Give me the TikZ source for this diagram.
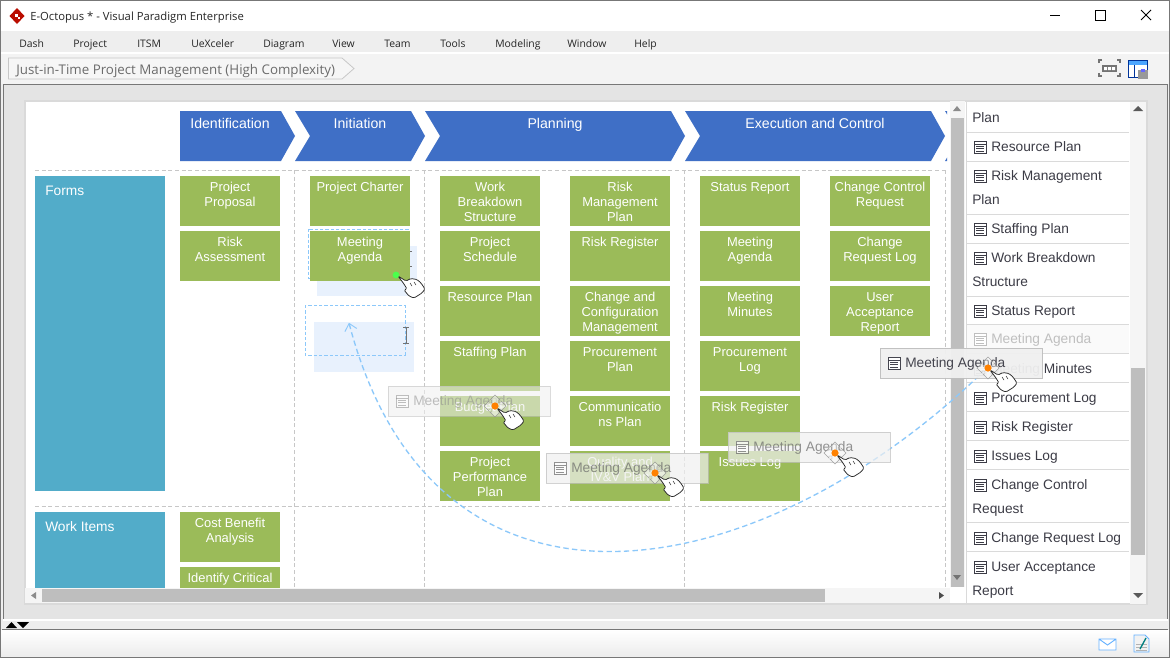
\documentclass[tikz,border=0pt]{standalone}
\usepackage{fontspec}
\setmainfont{Liberation Sans}
\newfontfamily\uifont{Open Sans}
\usetikzlibrary{arrows.meta}
\definecolor{chev}{HTML}{3F6FC6}
\definecolor{lane}{HTML}{52ACC9}
\definecolor{gbox}{HTML}{9BBB59}
\definecolor{chrome}{HTML}{EEEEEE}
\definecolor{frame}{HTML}{777777}
\definecolor{sbar}{HTML}{BEBEBE}
\definecolor{sep}{HTML}{DADADA}
\definecolor{dropb}{HTML}{8CC8FA}
\definecolor{dropf}{HTML}{E8F1FD}
\definecolor{ink}{HTML}{3C3C46}
\tikzset{
 px/.style={x=0.75pt,y=-0.75pt},
 greenbox/.style={fill=gbox,draw=none,anchor=north west,minimum width=75pt,minimum height=37.5pt,inner sep=0pt},
 greentext/.style={anchor=north,align=center,inner sep=0pt,text=white,font=\fontsize{9.7}{11.25}\selectfont},
 lanebox/.style={fill=lane,draw=none,anchor=north west,minimum width=97.5pt,inner sep=0pt},
 lanetext/.style={anchor=base west,inner sep=0pt,text=white,font=\fontsize{10.3}{12}\selectfont},
 chevtext/.style={anchor=base,inner sep=0pt,text=white,font=\fontsize{10.6}{12}\selectfont},
 griddash/.style={draw=black!22,dash pattern=on 3pt off 2pt,line width=0.45pt},
 listtext/.style={anchor=base west,inner sep=0pt,text=ink,font=\fontsize{10.3}{12}\selectfont},
 uitext/.style={anchor=base west,inner sep=0pt,text=black!85,font=\uifont\fontsize{7.8}{10}\selectfont},
 dropbox/.style={draw=dropb,dash pattern=on 2.5pt off 1.5pt,line width=0.6pt},
 dropcurve/.style={draw=dropb,dash pattern=on 4pt off 2.5pt,line width=1pt},
 handshape/.style={fill=white,draw=black!85,line width=0.55pt,rounded corners=1pt},
}
\newcommand{\gb}[5]{\node[greenbox] (#1) at (#2,#3) {};
 \node[greentext] (#1-t) at (#2+50,#3+4.3) {\rule{0pt}{8pt}#4};}
\newcommand{\formicon}[3]{\begin{scope}[shift={(#1,#2)}]
 \draw[#3,line width=0.7pt,fill=white] (0,0) rectangle (12,12);
 \draw[#3,line width=0.5pt] (0,3)--(12,3) (2,5.5)--(10,5.5) (2,7.8)--(10,7.8) (2,10)--(10,10);
 \end{scope}}
\newcommand{\itm}[5]{\formicon{974}{#2-5}{#4}
 \node[listtext,text=#5] (#1) at (991,#2+5) {#3};}
\newcommand{\txtl}[3]{\node[listtext] (#1) at (972,#2+5) {#3};}
\newcommand{\ghostlabel}[5]{%name x y opacity textcolor
 \node[anchor=north west,minimum width=121.5pt,minimum height=22.5pt,inner sep=0pt,fill=black!6,draw=black!25,line width=0.5pt,fill opacity=#4,draw opacity=#4] (#1) at (#2,#3) {};
 \begin{scope}[opacity=#4]\formicon{#2+8}{#3+9}{#5}\end{scope}
 \node[listtext,text=#5,text opacity=#4] (#1-t) at (#2+25,#3+19) {Meeting Agenda};}
\newcommand{\hand}[2]{\begin{scope}[shift={(#1,#2)}]
 \draw[handshape] (0,0)--(8,5)--(13,2.5)--(19,3.5)--(23,7)--(27,13)--(24,17)--(16,22)--(11,20)--(6,14)--(9,13)--(6,8)--cycle;
 \draw[black!85,line width=0.4pt] (12,7)--(14,10) (16,6)--(18,9);
 \end{scope}}
\newcommand{\movedot}[2]{\begin{scope}[shift={(#1,#2)}]
 \draw[fill=white,fill opacity=0.45,draw=black!50,draw opacity=0.7,line width=0.35pt] (0,-11)--(5,-6)--(3,-6)--(3,-3)--(6,-3)--(6,-5)--(11,0)--(6,5)--(6,3)--(3,3)--(3,6)--(5,6)--(0,11)--(-5,6)--(-3,6)--(-3,3)--(-6,3)--(-6,5)--(-11,0)--(-6,-5)--(-6,-3)--(-3,-3)--(-3,-6)--(-5,-6)--cycle;
 \fill[orange!90!red!90!yellow] (0,0) circle (3.6);
 \end{scope}}
\newcommand{\ibeam}[3]{\draw[black!55,line width=0.5pt] (#1-3,#2)--(#1+3,#2) (#1,#2)--(#1,#3) (#1-3,#3)--(#1+3,#3);}
\begin{document}
\begin{tikzpicture}[px]
\useasboundingbox (0,0) rectangle (1170,658);
% window chrome
\fill[chrome] (0,0) rectangle (1170,658);
\fill[white] (0,0) rectangle (1170,31);
\fill[chrome!70!white] (0,53) rectangle (1170,84);
\draw[white,line width=0.8pt] (0,53)--(1170,53);
\fill[chrome!96!black] (3,84) rectangle (1168,620);
\draw[frame,line width=0.75pt] (3,620)--(3,84)--(1167,84)--(1167,620);
\shade[top color=white,bottom color=black!7] (1,630) rectangle (1169,655);
\draw[frame,line width=0.75pt] (2,629.5)--(1168,629.5);
\draw[frame,line width=1pt] (0.5,0.5) rectangle (1169.5,657.5);
\fill[white] (3,619) rectangle (1168,621);
% title
\begin{scope}[shift={(17,16)}]
 \fill[red!70!black!90!orange] (0,-8)--(7.5,0)--(0,8)--(-7.5,0)--cycle;
 \fill[white] (-2.5,-2.5) rectangle (1,1);
 \fill[white] (1,1) rectangle (3,3);
\end{scope}
\node[uitext,font=\uifont\fontsize{8.45}{10}\selectfont] (title) at (30,20) {E-Octopus * - Visual Paradigm Enterprise};
\draw[black,line width=0.7pt] (1050,15)--(1060,15);
\draw[black,line width=0.7pt] (1095.5,10.5) rectangle (1105,20);
\draw[black,line width=0.6pt] (1141,10)--(1151,20) (1151,10)--(1141,20);
% menu
\foreach \nm/\xx/\lab in {m1/19/Dash,m2/73/Project,m3/137/ITSM,m4/191/UeXceler,m5/263/Diagram,m6/332/View,m7/384/Team,m8/440/Tools,m9/495/Modeling,m10/567/Window,m11/634/Help}
 \node[uitext] (\nm) at (\xx,47) {\lab};
% breadcrumb
\draw[fill=chrome!50!white,draw=black!22,line width=0.6pt] (8.5,58)--(342,58)--(354,68.5)--(342,79)--(8.5,79)--cycle;
\node[uitext,text=black!58,font=\uifont\fontsize{10}{12}\selectfont] (crumb) at (16,74) {Just-in-Time Project Management (High Complexity)};
% toolbar icons
\begin{scope}[shift={(1099,60)}]
 \fill[black!55] (3,5) rectangle (18,12);
 \fill[white] (5,7) rectangle (8,10) (9,7) rectangle (12,10) (13,7) rectangle (16,10);
 \draw[black!55,line width=0.9pt] (0,3)--(0,0)--(3,0) (18,0)--(21,0)--(21,3) (0,13)--(0,16)--(3,16) (18,16)--(21,16)--(21,13);
\end{scope}
\begin{scope}[shift={(1128,60)}]
 \fill[white] (0,0) rectangle (19,17);
 \fill[blue!50!cyan!70!white] (0,0) rectangle (19,5);
 \draw[blue!50!black!80!cyan,line width=0.7pt] (0,0) rectangle (19,17) (6,5)--(6,17);
 \fill[black!40] (10,10) rectangle (20,19);
 \fill[blue!60!white] (13,9) rectangle (17,12);
\end{scope}
% side panels frame
\fill[white] (25,101) rectangle (1147,604);
\draw[sep,line width=0.8pt] (25,101) rectangle (1147,604);
% diagram viewport
\begin{scope}
\clip (25,101) rectangle (947,587);
\draw[griddash] (35,170)--(947,170) (35,506)--(947,506);
\draw[griddash] (294,170)--(294,587) (424,170)--(424,587) (684,170)--(684,587) (945,170)--(945,587);
\fill[chev] (180,111)--(281,111)--(295,136)--(281,161)--(180,161)--cycle;
\fill[chev] (295,111)--(411,111)--(425,136)--(411,161)--(295,161)--(310,136)--cycle;
\fill[chev] (425,111)--(671,111)--(685,136)--(671,161)--(425,161)--(440,136)--cycle;
\fill[chev] (685,111)--(931,111)--(945,136)--(931,161)--(685,161)--(700,136)--cycle;
\fill[chev] (945,111)--(1000,111)--(1000,161)--(945,161)--(960,136)--cycle;
\node[chevtext] (c1) at (230,128) {Identification};
\node[chevtext] (c2) at (360,128) {Initiation};
\node[chevtext] (c3) at (555,128) {Planning};
\node[chevtext] (c4) at (815,128) {Execution and Control};
\node[lanebox,minimum height=236.25pt] (forms) at (35,176) {};
\node[lanetext] at (45,195) (forms-t) {Forms};
\node[lanebox,minimum height=60pt] (work) at (35,512) {};
\node[lanetext] at (45,531) (work-t) {Work Items};
% drop highlights and outlines behind the boxes
\fill[dropf] (317,246) rectangle (417,296);
\fill[dropf] (314,322) rectangle (414,372);
\draw[dropbox] (308,229) rectangle (408,278);
\ibeam{409}{251}{266}
\gb{a1}{180}{176}{Project\\Proposal}{}
\gb{a2}{180}{231}{Risk\\Assessment}{}
\gb{a3}{180}{512}{Cost Benefit\\Analysis}{}
\gb{a4}{180}{567}{Identify Critical}{}
\gb{b1}{310}{176}{Project Charter}{}
\gb{b2}{310}{231}{Meeting\\Agenda}{}
\gb{d1}{440}{176}{Work\\Breakdown\\Structure}{}
\gb{d2}{440}{231}{Project\\Schedule}{}
\gb{d3}{440}{286}{Resource Plan}{}
\gb{d4}{440}{341}{Staffing Plan}{}
\gb{d5}{440}{396}{Budget Plan}{}
\gb{d6}{440}{451}{Project\\Performance\\Plan}{}
\gb{e1}{570}{176}{Risk\\Management\\Plan}{}
\gb{e2}{570}{231}{Risk Register}{}
\gb{e3}{570}{286}{Change and\\Configuration\\Management}{}
\gb{e4}{570}{341}{Procurement\\Plan}{}
\gb{e5}{570}{396}{Communicatio\\ns Plan}{}
\gb{e6}{570}{451}{Quality and\\IV\&V Plan}{}
\gb{f1}{700}{176}{Status Report}{}
\gb{f2}{700}{231}{Meeting\\Agenda}{}
\gb{f3}{700}{286}{Meeting\\Minutes}{}
\gb{f4}{700}{341}{Procurement\\Log}{}
\gb{f5}{700}{396}{Risk Register}{}
\gb{f6}{700}{451}{Issues Log}{}
\gb{h1}{830}{176}{Change Control\\Request}{}
\gb{h2}{830}{231}{Change\\Request Log}{}
\gb{h3}{830}{286}{User\\Acceptance\\Report}{}
\end{scope}
\draw[dropbox] (305,305) rectangle (405,355);
\ibeam{406}{327}{343}
% diagram scrollbars
\fill[chrome!60!white] (950,101) rectangle (965,587);
\fill[sbar] (951,118) rectangle (964,587);
\fill[black!45] (953,111)--(957,106)--(961,111)--cycle;
\fill[black!55] (953,575)--(961,575)--(957,580)--cycle;
\fill[chrome!60!white] (25,588) rectangle (950,603);
\fill[sbar] (42,589) rectangle (825,602);
\fill[black!45] (36,592)--(36,599)--(31,595.5)--cycle;
\fill[black!70] (939,592)--(939,599)--(944,595.5)--cycle;
% list panel
\draw[sep,line width=0.8pt] (966.5,101)--(966.5,604);
\foreach \yy in {132,161,214,243,296,324,353,382,411,440,469,522,551}
 \draw[sep,line width=0.75pt] (967,\yy)--(1129,\yy);
\fill[black!2] (967,325) rectangle (1129,353);
\txtl{l0}{117}{Plan}
\itm{l1}{146}{Resource Plan}{ink}{ink}
\itm{l2}{175}{Risk Management}{ink}{ink}
\txtl{l2b}{199}{Plan}
\itm{l3}{228}{Staffing Plan}{ink}{ink}
\itm{l4}{257}{Work Breakdown}{ink}{ink}
\txtl{l4b}{281}{Structure}
\itm{l5}{310}{Status Report}{ink}{ink}
\itm{l6}{338}{Meeting Agenda}{black!25}{black!25}
\itm{l7}{368}{Meeting Minutes}{ink}{ink}
\itm{l8}{397}{Procurement Log}{ink}{ink}
\itm{l9}{426}{Risk Register}{ink}{ink}
\itm{l10}{455}{Issues Log}{ink}{ink}
\itm{l11}{484}{Change Control}{ink}{ink}
\txtl{l11b}{508}{Request}
\itm{l12}{537}{Change Request Log}{ink}{ink}
\itm{l13}{566}{User Acceptance}{ink}{ink}
\txtl{l13b}{590}{Report}
\fill[chrome!60!white] (1130,102) rectangle (1146,603.5);
\fill[sbar] (1131,368) rectangle (1145,555);
\fill[black!65] (1133,111)--(1138,106)--(1143,111)--cycle;
\fill[black!65] (1133,593)--(1143,593)--(1138,598)--cycle;
% bottom bits
\fill[black] (6,628)--(17,628)--(11.5,622)--cycle;
\fill[black] (17,622)--(29,622)--(23,628)--cycle;
\begin{scope}[shift={(1099,639)}]
 \draw[blue!50!cyan!60!white,fill=white,line width=0.7pt] (0,0) rectangle (17,11) (0,0)--(8.5,6)--(17,0);
\end{scope}
\begin{scope}[shift={(1134,635)}]
 \draw[blue!50!cyan!60!white,fill=black!5,line width=0.7pt] (0,0)--(11,0)--(15,4)--(15,17)--(0,17)--cycle;
 \draw[black!30,line width=0.7pt] (2,9)--(13,9) (2,12)--(13,12) (2,15)--(13,15);
 \draw[teal,line width=1pt] (6,14)--(12,3);
\end{scope}
% drag curve
\coordinate (curveTop) at (349,323);
\coordinate (curveEnd) at (987,368);
\draw[dropcurve,{Straight Barb[length=5pt,width=9pt,line width=0.7pt,round,open]}-] (curveTop) .. controls (435,650) and (760,590) .. (curveEnd);
% ghost labels
\ghostlabel{g1}{388}{386}{0.55}{black!45}
\ghostlabel{g2}{546}{453}{0.7}{black!60}
\ghostlabel{g3}{728}{432}{0.7}{black!60}
\ghostlabel{g4}{880}{348}{0.95}{ink}
% cursors
\fill[green!70!white] (396,275) circle (3.4);
\hand{398}{276}
\movedot{495}{406}\hand{497}{408}
\movedot{655}{473}\hand{657}{475}
\movedot{835}{453}\hand{837}{455}
\movedot{988}{368}\hand{990}{370}
\end{tikzpicture}
\end{document}
